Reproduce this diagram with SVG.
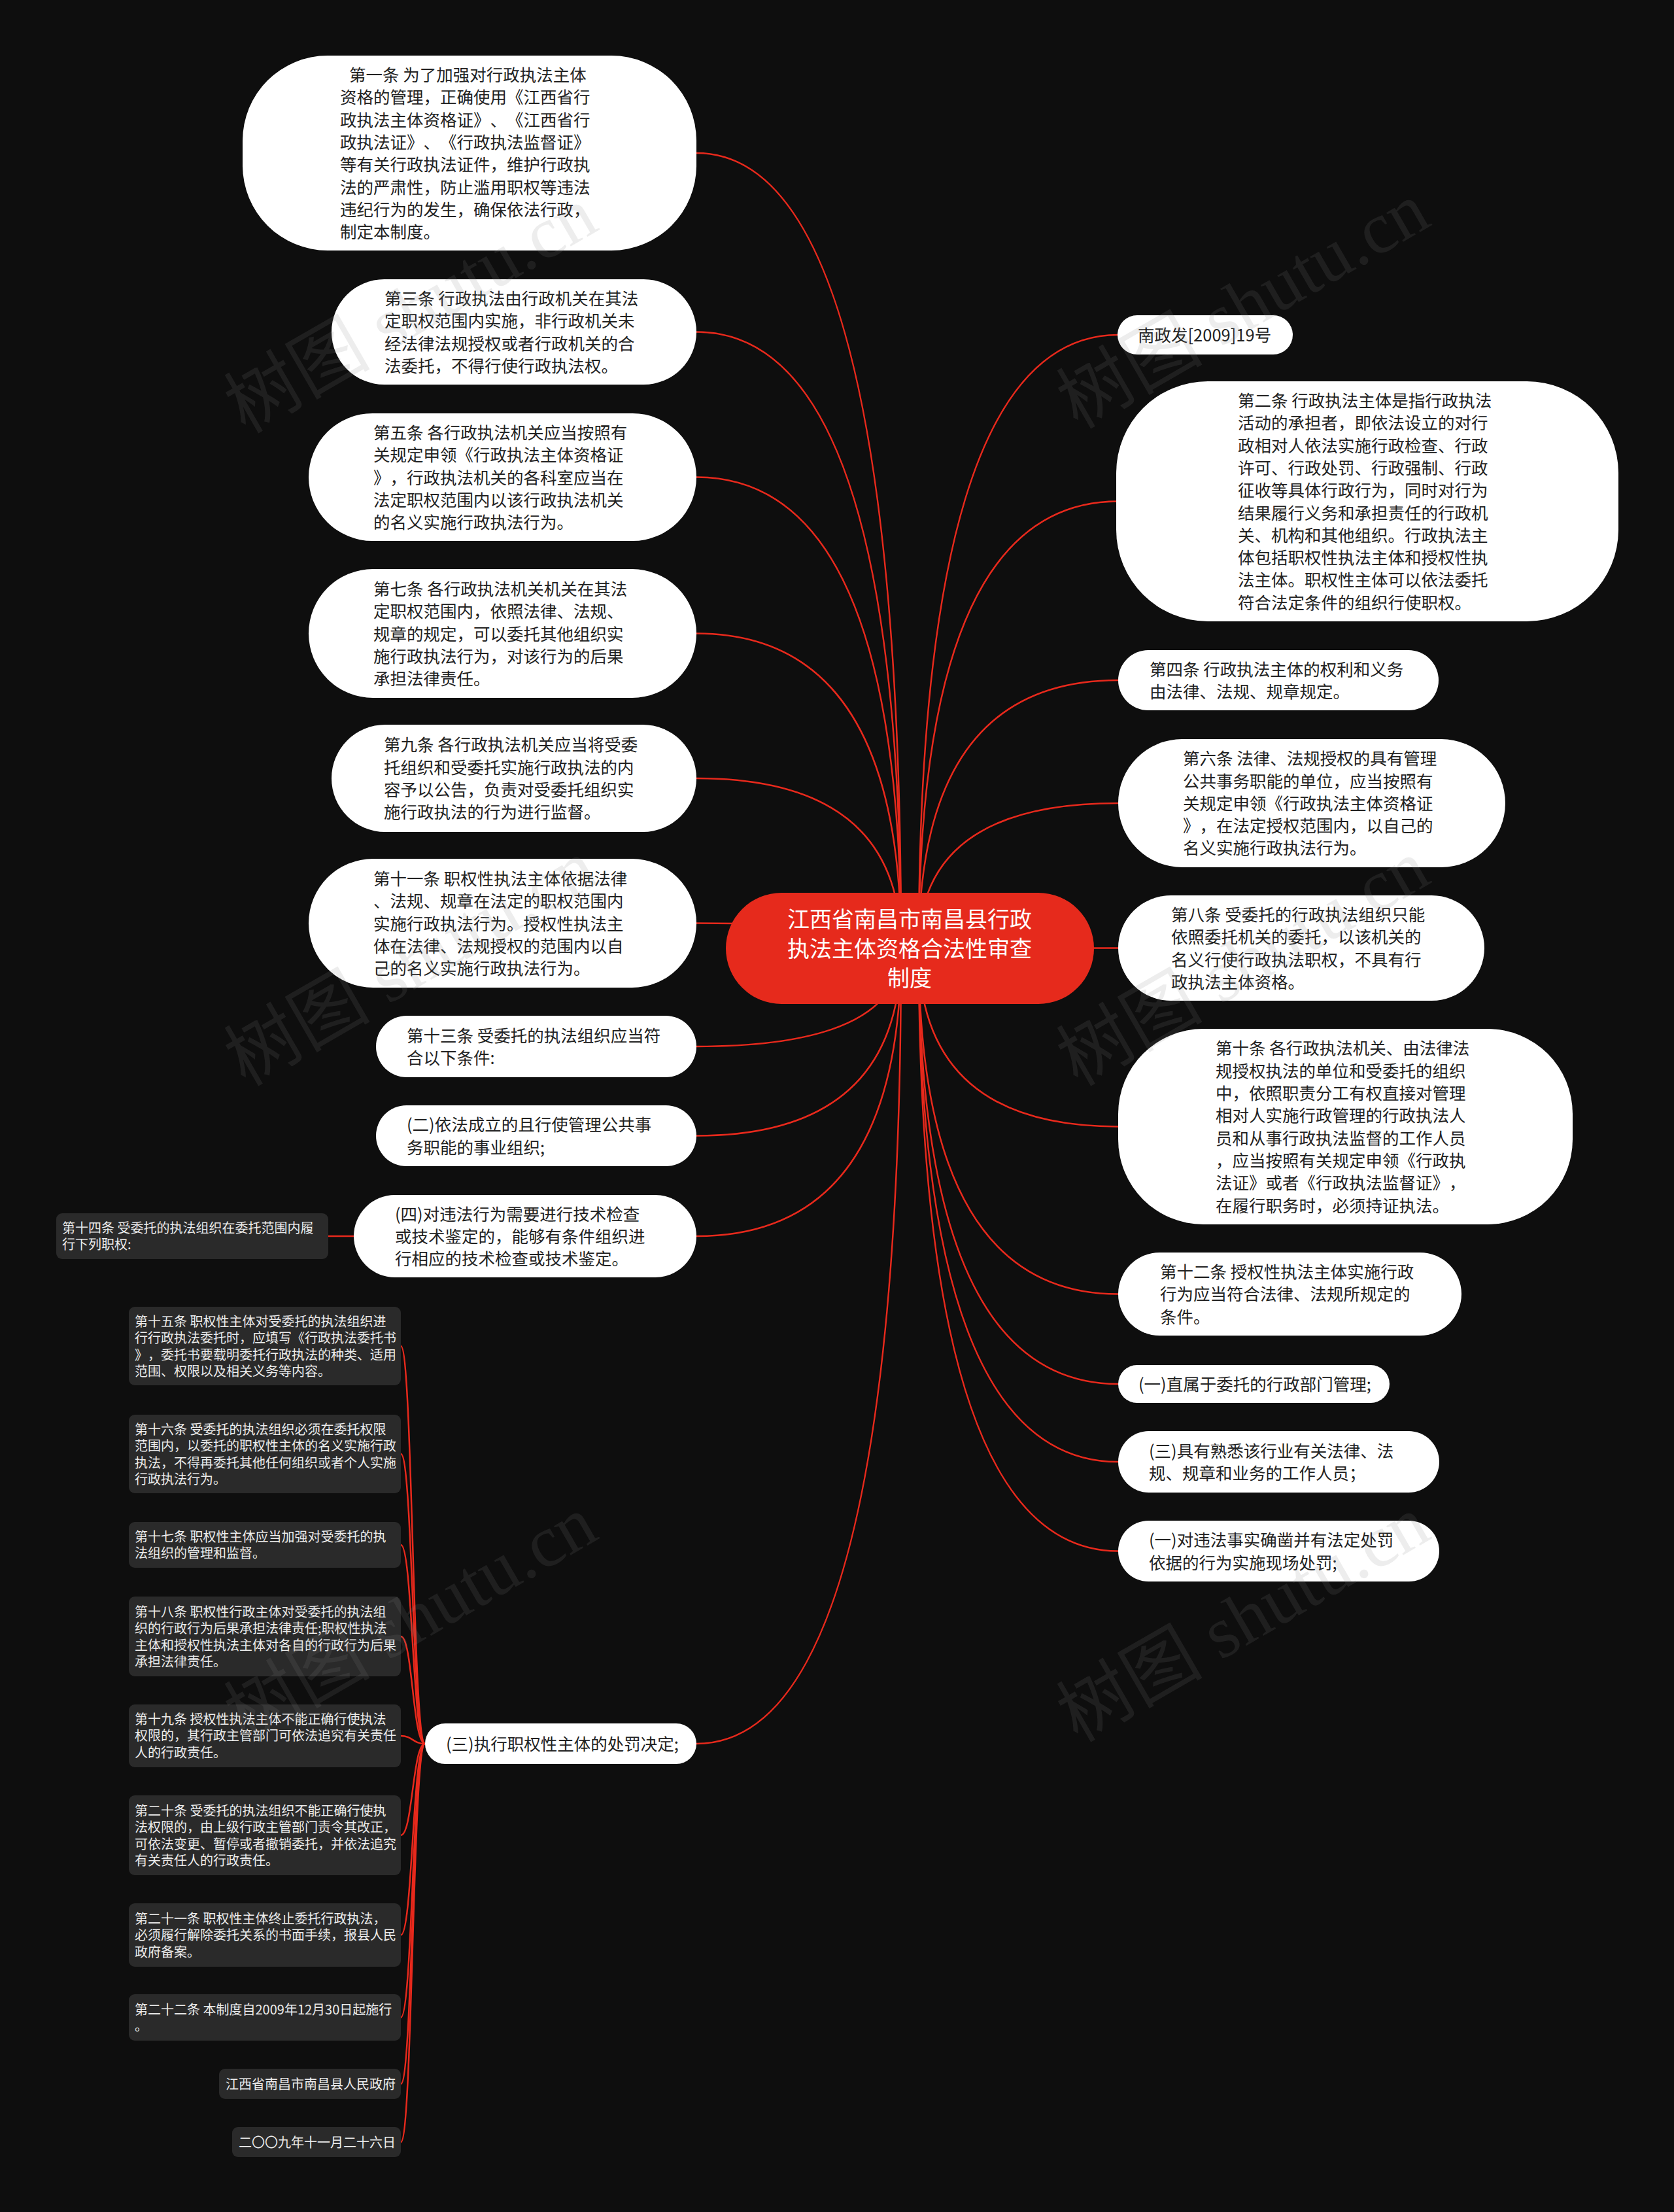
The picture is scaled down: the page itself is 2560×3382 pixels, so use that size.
<svg xmlns="http://www.w3.org/2000/svg" width="2560" height="3382" viewBox="0 0 2560 3382">
<style>
text{text-spacing-trim:space-all}
.wn{fill:#ffffff}
.dn{fill:#2a2a2a}
.cn{fill:#e62a1c}
.wt{font-family:"Noto Sans CJK SC","Noto Sans",sans-serif;font-size:25.5px;fill:#222222}
.dt{font-family:"Noto Sans CJK SC","Noto Sans",sans-serif;font-size:20px;fill:#ececec}
.ct{font-family:"Noto Sans CJK SC","Noto Sans",sans-serif;font-size:34px;fill:#ffffff;text-anchor:middle}
.ln{fill:none;stroke:#e8291c;stroke-width:2.5}
.wm{font-family:"Liberation Serif","Noto Sans CJK SC",serif;font-size:112px;fill:#888888;fill-opacity:0.15}
</style>
<rect x="0" y="0" width="2560" height="3382" fill="#0e0e0e"/>
<g id="connectors">
<path class="ln" d="M1065 234 Q1378 234 1378 1450"/>
<path class="ln" d="M1065 507.5 Q1378 507.5 1378 1450"/>
<path class="ln" d="M1065 729.5 Q1378 729.5 1378 1450"/>
<path class="ln" d="M1065 968.5 Q1378 968.5 1378 1450"/>
<path class="ln" d="M1065 1190 Q1378 1190 1378 1450"/>
<path class="ln" d="M1065 1411.5 Q1378 1411.5 1378 1450"/>
<path class="ln" d="M1065 1600 Q1378 1600 1378 1450"/>
<path class="ln" d="M1065 1736.5 Q1378 1736.5 1378 1450"/>
<path class="ln" d="M1065 1890 Q1378 1890 1378 1450"/>
<path class="ln" d="M1065 2666 Q1378 2666 1378 1450"/>
<path class="ln" d="M1710 512 Q1405 512 1405 1450"/>
<path class="ln" d="M1710 766.5 Q1405 766.5 1405 1450"/>
<path class="ln" d="M1710 1040 Q1405 1040 1405 1450"/>
<path class="ln" d="M1710 1228 Q1405 1228 1405 1450"/>
<path class="ln" d="M1710 1449.5 Q1405 1449.5 1405 1450"/>
<path class="ln" d="M1710 1722.5 Q1405 1722.5 1405 1450"/>
<path class="ln" d="M1710 1978.5 Q1405 1978.5 1405 1450"/>
<path class="ln" d="M1710 2116 Q1405 2116 1405 1450"/>
<path class="ln" d="M1710 2235 Q1405 2235 1405 1450"/>
<path class="ln" d="M1710 2371.5 Q1405 2371.5 1405 1450"/>
<path class="ln" d="M541 1890 L502 1890"/>
<path class="ln" d="M650 2666 C631 2666 631 2058 613 2058"/>
<path class="ln" d="M650 2666 C631 2666 631 2223 613 2223"/>
<path class="ln" d="M650 2666 C631 2666 631 2362 613 2362"/>
<path class="ln" d="M650 2666 C631 2666 631 2502 613 2502"/>
<path class="ln" d="M650 2666 C631 2666 631 2654 613 2654"/>
<path class="ln" d="M650 2666 C631 2666 631 2806 613 2806"/>
<path class="ln" d="M650 2666 C631 2666 631 2958.5 613 2958.5"/>
<path class="ln" d="M650 2666 C631 2666 631 3084.5 613 3084.5"/>
<path class="ln" d="M650 2666 C631 2666 631 3186 613 3186"/>
<path class="ln" d="M650 2666 C631 2666 631 3275 613 3275"/>
</g>
<g id="center">
<rect class="cn" x="1110" y="1365" width="563" height="170" rx="85"/>
<text class="ct"><tspan x="1391" y="1418">江西省南昌市南昌县行政</tspan><tspan x="1391" y="1463">执法主体资格合法性审查</tspan><tspan x="1391" y="1508">制度</tspan></text>
</g>
<g id="n1">
<rect class="wn" x="371" y="85" width="694" height="298" rx="130"/>
<text class="wt"><tspan x="534" y="124">第一条 为了加强对行政执法主体</tspan><tspan x="520" y="158">资格的管理，正确使用《江西省行</tspan><tspan x="520" y="193">政执法主体资格证》、《江西省行</tspan><tspan x="520" y="227">政执法证》、《行政执法监督证》</tspan><tspan x="520" y="261">等有关行政执法证件，维护行政执</tspan><tspan x="520" y="296">法的严肃性，防止滥用职权等违法</tspan><tspan x="520" y="330">违纪行为的发生，确保依法行政，</tspan><tspan x="520" y="364">制定本制度。</tspan></text>
</g>
<g id="n3">
<rect class="wn" x="507" y="427" width="558" height="161" rx="80.5"/>
<text class="wt"><tspan x="588" y="466">第三条 行政执法由行政机关在其法</tspan><tspan x="588" y="500">定职权范围内实施，非行政机关未</tspan><tspan x="588" y="535">经法律法规授权或者行政机关的合</tspan><tspan x="588" y="569">法委托，不得行使行政执法权。</tspan></text>
</g>
<g id="n5">
<rect class="wn" x="472" y="632" width="593" height="195" rx="97.5"/>
<text class="wt"><tspan x="571" y="671">第五条 各行政执法机关应当按照有</tspan><tspan x="571" y="705">关规定申领《行政执法主体资格证</tspan><tspan x="571" y="740">》，行政执法机关的各科室应当在</tspan><tspan x="571" y="774">法定职权范围内以该行政执法机关</tspan><tspan x="571" y="808">的名义实施行政执法行为。</tspan></text>
</g>
<g id="n7">
<rect class="wn" x="472" y="870" width="593" height="197" rx="98.5"/>
<text class="wt"><tspan x="571" y="910">第七条 各行政执法机关机关在其法</tspan><tspan x="571" y="944">定职权范围内，依照法律、法规、</tspan><tspan x="571" y="979">规章的规定，可以委托其他组织实</tspan><tspan x="571" y="1013">施行政执法行为，对该行为的后果</tspan><tspan x="571" y="1047">承担法律责任。</tspan></text>
</g>
<g id="n9">
<rect class="wn" x="507" y="1108" width="558" height="164" rx="82"/>
<text class="wt"><tspan x="587" y="1148">第九条 各行政执法机关应当将受委</tspan><tspan x="587" y="1183">托组织和受委托实施行政执法的内</tspan><tspan x="587" y="1217">容予以公告，负责对受委托组织实</tspan><tspan x="587" y="1251">施行政执法的行为进行监督。</tspan></text>
</g>
<g id="n11">
<rect class="wn" x="472" y="1313" width="593" height="197" rx="98.5"/>
<text class="wt"><tspan x="571" y="1353">第十一条 职权性执法主体依据法律</tspan><tspan x="571" y="1387">、法规、规章在法定的职权范围内</tspan><tspan x="571" y="1422">实施行政执法行为。授权性执法主</tspan><tspan x="571" y="1456">体在法律、法规授权的范围内以自</tspan><tspan x="571" y="1490">己的名义实施行政执法行为。</tspan></text>
</g>
<g id="n13">
<rect class="wn" x="575" y="1553" width="490" height="94" rx="47"/>
<text class="wt"><tspan x="622" y="1593">第十三条 受委托的执法组织应当符</tspan><tspan x="622" y="1627">合以下条件:</tspan></text>
</g>
<g id="n13-2">
<rect class="wn" x="575" y="1690" width="490" height="93" rx="46.5"/>
<text class="wt"><tspan x="622" y="1729">(二)依法成立的且行使管理公共事</tspan><tspan x="622" y="1764">务职能的事业组织;</tspan></text>
</g>
<g id="n13-4">
<rect class="wn" x="541" y="1827" width="524" height="126" rx="63"/>
<text class="wt"><tspan x="604" y="1866">(四)对违法行为需要进行技术检查</tspan><tspan x="604" y="1900">或技术鉴定的，能够有条件组织进</tspan><tspan x="604" y="1934">行相应的技术检查或技术鉴定。</tspan></text>
</g>
<g id="n14">
<rect class="dn" x="86" y="1855" width="416" height="70" rx="9"/>
<text class="dt"><tspan x="95" y="1885">第十四条 受委托的执法组织在委托范围内履</tspan><tspan x="95" y="1910">行下列职权:</tspan></text>
</g>
<g id="n-punish">
<rect class="wn" x="650" y="2635" width="415" height="62" rx="31"/>
<text class="wt"><tspan x="682" y="2676">(三)执行职权性主体的处罚决定;</tspan></text>
</g>
<g id="n15">
<rect class="dn" x="197" y="1998" width="416" height="120" rx="9"/>
<text class="dt"><tspan x="206" y="2028">第十五条 职权性主体对受委托的执法组织进</tspan><tspan x="206" y="2053">行行政执法委托时，应填写《行政执法委托书</tspan><tspan x="206" y="2079">》，委托书要载明委托行政执法的种类、适用</tspan><tspan x="206" y="2104">范围、权限以及相关义务等内容。</tspan></text>
</g>
<g id="n16">
<rect class="dn" x="197" y="2163" width="416" height="120" rx="9"/>
<text class="dt"><tspan x="206" y="2193">第十六条 受委托的执法组织必须在委托权限</tspan><tspan x="206" y="2218">范围内，以委托的职权性主体的名义实施行政</tspan><tspan x="206" y="2244">执法，不得再委托其他任何组织或者个人实施</tspan><tspan x="206" y="2269">行政执法行为。</tspan></text>
</g>
<g id="n17">
<rect class="dn" x="197" y="2327" width="416" height="70" rx="9"/>
<text class="dt"><tspan x="206" y="2357">第十七条 职权性主体应当加强对受委托的执</tspan><tspan x="206" y="2382">法组织的管理和监督。</tspan></text>
</g>
<g id="n18">
<rect class="dn" x="197" y="2441" width="416" height="122" rx="9"/>
<text class="dt"><tspan x="206" y="2472">第十八条 职权性行政主体对受委托的执法组</tspan><tspan x="206" y="2497">织的行政行为后果承担法律责任;职权性执法</tspan><tspan x="206" y="2523">主体和授权性执法主体对各自的行政行为后果</tspan><tspan x="206" y="2548">承担法律责任。</tspan></text>
</g>
<g id="n19">
<rect class="dn" x="197" y="2606" width="416" height="96" rx="9"/>
<text class="dt"><tspan x="206" y="2636">第十九条 授权性执法主体不能正确行使执法</tspan><tspan x="206" y="2661">权限的，其行政主管部门可依法追究有关责任</tspan><tspan x="206" y="2687">人的行政责任。</tspan></text>
</g>
<g id="n20">
<rect class="dn" x="197" y="2745" width="416" height="122" rx="9"/>
<text class="dt"><tspan x="206" y="2776">第二十条 受委托的执法组织不能正确行使执</tspan><tspan x="206" y="2801">法权限的，由上级行政主管部门责令其改正，</tspan><tspan x="206" y="2827">可依法变更、暂停或者撤销委托，并依法追究</tspan><tspan x="206" y="2852">有关责任人的行政责任。</tspan></text>
</g>
<g id="n21">
<rect class="dn" x="197" y="2910" width="416" height="97" rx="9"/>
<text class="dt"><tspan x="206" y="2941">第二十一条 职权性主体终止委托行政执法，</tspan><tspan x="206" y="2966">必须履行解除委托关系的书面手续，报县人民</tspan><tspan x="206" y="2992">政府备案。</tspan></text>
</g>
<g id="n22">
<rect class="dn" x="197" y="3049" width="416" height="71" rx="9"/>
<text class="dt"><tspan x="206" y="3080">第二十二条 本制度自2009年12月30日起施行</tspan><tspan x="206" y="3105">。</tspan></text>
</g>
<g id="n-gov">
<rect class="dn" x="335" y="3163" width="278" height="46" rx="9"/>
<text class="dt"><tspan x="345" y="3194">江西省南昌市南昌县人民政府</tspan></text>
</g>
<g id="n-date">
<rect class="dn" x="355" y="3252" width="258" height="46" rx="9"/>
<text class="dt"><tspan x="365" y="3283">二〇〇九年十一月二十六日</tspan></text>
</g>
<g id="r-doc">
<rect class="wn" x="1709" y="482" width="268" height="60" rx="30"/>
<text class="wt"><tspan x="1740" y="522">南政发[2009]19号</tspan></text>
</g>
<g id="n2">
<rect class="wn" x="1707" y="583" width="768" height="367" rx="140"/>
<text class="wt"><tspan x="1893" y="622">第二条 行政执法主体是指行政执法</tspan><tspan x="1893" y="656">活动的承担者，即依法设立的对行</tspan><tspan x="1893" y="691">政相对人依法实施行政检查、行政</tspan><tspan x="1893" y="725">许可、行政处罚、行政强制、行政</tspan><tspan x="1893" y="759">征收等具体行政行为，同时对行为</tspan><tspan x="1893" y="794">结果履行义务和承担责任的行政机</tspan><tspan x="1893" y="828">关、机构和其他组织。行政执法主</tspan><tspan x="1893" y="862">体包括职权性执法主体和授权性执</tspan><tspan x="1893" y="896">法主体。职权性主体可以依法委托</tspan><tspan x="1893" y="931">符合法定条件的组织行使职权。</tspan></text>
</g>
<g id="n4">
<rect class="wn" x="1710" y="994" width="490" height="92" rx="46"/>
<text class="wt"><tspan x="1758" y="1033">第四条 行政执法主体的权利和义务</tspan><tspan x="1758" y="1067">由法律、法规、规章规定。</tspan></text>
</g>
<g id="n6">
<rect class="wn" x="1710" y="1130" width="592" height="196" rx="98"/>
<text class="wt"><tspan x="1809" y="1169">第六条 法律、法规授权的具有管理</tspan><tspan x="1809" y="1204">公共事务职能的单位，应当按照有</tspan><tspan x="1809" y="1238">关规定申领《行政执法主体资格证</tspan><tspan x="1809" y="1272">》，在法定授权范围内，以自己的</tspan><tspan x="1809" y="1306">名义实施行政执法行为。</tspan></text>
</g>
<g id="n8">
<rect class="wn" x="1710" y="1369" width="560" height="161" rx="80.5"/>
<text class="wt"><tspan x="1791" y="1408">第八条 受委托的行政执法组织只能</tspan><tspan x="1791" y="1442">依照委托机关的委托，以该机关的</tspan><tspan x="1791" y="1477">名义行使行政执法职权，不具有行</tspan><tspan x="1791" y="1511">政执法主体资格。</tspan></text>
</g>
<g id="n10">
<rect class="wn" x="1710" y="1573" width="695" height="299" rx="130"/>
<text class="wt"><tspan x="1859" y="1612">第十条 各行政执法机关、由法律法</tspan><tspan x="1859" y="1647">规授权执法的单位和受委托的组织</tspan><tspan x="1859" y="1681">中，依照职责分工有权直接对管理</tspan><tspan x="1859" y="1715">相对人实施行政管理的行政执法人</tspan><tspan x="1859" y="1750">员和从事行政执法监督的工作人员</tspan><tspan x="1859" y="1784">，应当按照有关规定申领《行政执</tspan><tspan x="1859" y="1818">法证》或者《行政执法监督证》，</tspan><tspan x="1859" y="1853">在履行职务时，必须持证执法。</tspan></text>
</g>
<g id="n12">
<rect class="wn" x="1710" y="1915" width="525" height="127" rx="63.5"/>
<text class="wt"><tspan x="1774" y="1954">第十二条 授权性执法主体实施行政</tspan><tspan x="1774" y="1988">行为应当符合法律、法规所规定的</tspan><tspan x="1774" y="2023">条件。</tspan></text>
</g>
<g id="n12-1">
<rect class="wn" x="1710" y="2087" width="415" height="58" rx="29"/>
<text class="wt"><tspan x="1741" y="2126">(一)直属于委托的行政部门管理;</tspan></text>
</g>
<g id="n12-3">
<rect class="wn" x="1710" y="2188" width="491" height="94" rx="47"/>
<text class="wt"><tspan x="1757" y="2228">(三)具有熟悉该行业有关法律、法</tspan><tspan x="1757" y="2262">规、规章和业务的工作人员；</tspan></text>
</g>
<g id="n12-5">
<rect class="wn" x="1710" y="2325" width="491" height="93" rx="46.5"/>
<text class="wt"><tspan x="1757" y="2364">(一)对违法事实确凿并有法定处罚</tspan><tspan x="1757" y="2399">依据的行为实施现场处罚;</tspan></text>
</g>
<g id="watermark">
<text class="wm" transform="translate(647 507) rotate(-30)" text-anchor="middle">树图 shutu.cn</text>
<text class="wm" transform="translate(1920 500) rotate(-30)" text-anchor="middle">树图 shutu.cn</text>
<text class="wm" transform="translate(647 1505) rotate(-30)" text-anchor="middle">树图 shutu.cn</text>
<text class="wm" transform="translate(1920 1505) rotate(-30)" text-anchor="middle">树图 shutu.cn</text>
<text class="wm" transform="translate(647 2508) rotate(-30)" text-anchor="middle">树图 shutu.cn</text>
<text class="wm" transform="translate(1920 2508) rotate(-30)" text-anchor="middle">树图 shutu.cn</text>
</g>
</svg>
